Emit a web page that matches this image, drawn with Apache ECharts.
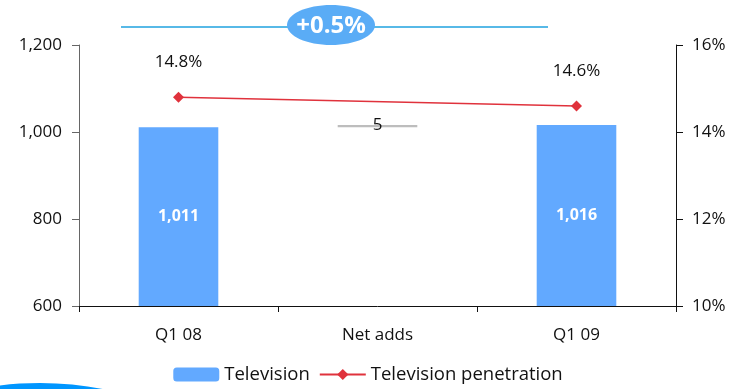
<!DOCTYPE html>
<html>
<head>
<meta charset="utf-8">
<script src="https://cdn.jsdelivr.net/npm/echarts@6/dist/echarts.min.js"></script>
<style>
  html, body { margin: 0; padding: 0; background: #fff; }
  #chart { width: 736px; height: 389px; }
</style>
</head>
<body>
<div id="chart"></div>
<script>
// Quarter categories and values
const categories = ['Q1 08', 'Net adds', 'Q1 09'];
const televisionValues = [1011, '-', 1016];
const netAddsBase = ['-', 1011, '-'];
const netAddsValues = ['-', 5, '-'];
const penetrationValues = [14.8, '-', 14.6];
const growthLabel = '+0.5%';

const FONT = 'Open Sans';
const FS = 17;
const chart = echarts.init(document.getElementById('chart'), null, { renderer: 'canvas' });

chart.setOption({
  animation: false,
  textStyle: { fontFamily: FONT },
  grid: { left: 79, right: 60, top: 45, bottom: 83 },
  legend: {
    data: ['Television', 'Television penetration'],
    bottom: 0,
    left: 'center',
    itemWidth: 46,
    itemHeight: 14,
    itemGap: 9,
    textStyle: { fontFamily: FONT, fontSize: 18.5, color: '#111' }
  },
  xAxis: {
    type: 'category',
    data: categories,
    axisLine: { lineStyle: { color: '#111', width: 1 } },
    axisTick: { show: true, alignWithLabel: false, length: 6, lineStyle: { color: '#111' } },
    axisLabel: { fontFamily: FONT, fontSize: FS, color: '#111', margin: 21 }
  },
  yAxis: [
    {
      type: 'value', min: 600, max: 1200, interval: 200,
      splitLine: { show: false },
      axisLine: { show: true, lineStyle: { color: '#666' } },
      axisTick: { show: true, length: 7, lineStyle: { color: '#666' } },
      axisLabel: {
        fontFamily: FONT, fontSize: FS, color: '#111', margin: 17,
        formatter: v => v.toLocaleString('en-US')
      }
    },
    {
      type: 'value', min: 10, max: 16, interval: 2,
      splitLine: { show: false },
      axisLine: { show: true, lineStyle: { color: '#111' } },
      axisTick: { show: true, length: 7, lineStyle: { color: '#111' } },
      axisLabel: { fontFamily: FONT, fontSize: FS, color: '#111', margin: 16, formatter: '{value}%' }
    }
  ],
  series: [
    {
      name: 'Television',
      type: 'bar',
      stack: 'tv',
      barWidth: '40%',
      data: televisionValues,
      itemStyle: { color: '#62a9ff' },
      label: {
        show: true, position: 'inside', color: '#fff', fontWeight: 'bold',
        fontFamily: FONT, fontSize: 16,
        formatter: p => Number(p.value).toLocaleString('en-US')
      }
    },
    {
      name: 'base',
      type: 'bar',
      stack: 'tv',
      data: netAddsBase,
      itemStyle: { color: 'rgba(0,0,0,0)' },
      silent: true
    },
    {
      name: 'Net adds',
      type: 'bar',
      stack: 'tv',
      data: netAddsValues,
      itemStyle: { color: '#bdbdbd' },
      label: {
        show: true, position: 'inside', color: '#111',
        fontFamily: FONT, fontSize: FS, offset: [0, -1]
      }
    },
    {
      name: 'Television penetration',
      type: 'line',
      yAxisIndex: 1,
      data: penetrationValues,
      connectNulls: true,
      symbol: 'diamond',
      symbolSize: 11,
      lineStyle: { color: '#e0323c', width: 1.5 },
      itemStyle: { color: '#e0323c' },
      label: {
        show: true, position: 'top', distance: 21, color: '#111',
        fontFamily: FONT, fontSize: FS,
        formatter: p => p.value.toFixed(1) + '%'
      }
    }
  ],
  graphic: [
    {
      type: 'line',
      shape: { x1: 121, y1: 27, x2: 548, y2: 27 },
      style: { stroke: '#1fa2df', lineWidth: 1.5 }
    },
    {
      type: 'ellipse',
      shape: { cx: 331, cy: 25, rx: 44, ry: 20 },
      style: { fill: '#5aacf6' }
    },
    {
      type: 'text',
      x: 331, y: 26,
      style: {
        text: growthLabel, fill: '#fff', fontFamily: FONT, fontWeight: 'bold',
        fontSize: 24, align: 'center', verticalAlign: 'middle'
      }
    },
    {
      type: 'ellipse',
      shape: { cx: 40, cy: 503, rx: 200, ry: 120 },
      style: { fill: '#0096ff' }
    }
  ]
});
</script>
</body>
</html>
